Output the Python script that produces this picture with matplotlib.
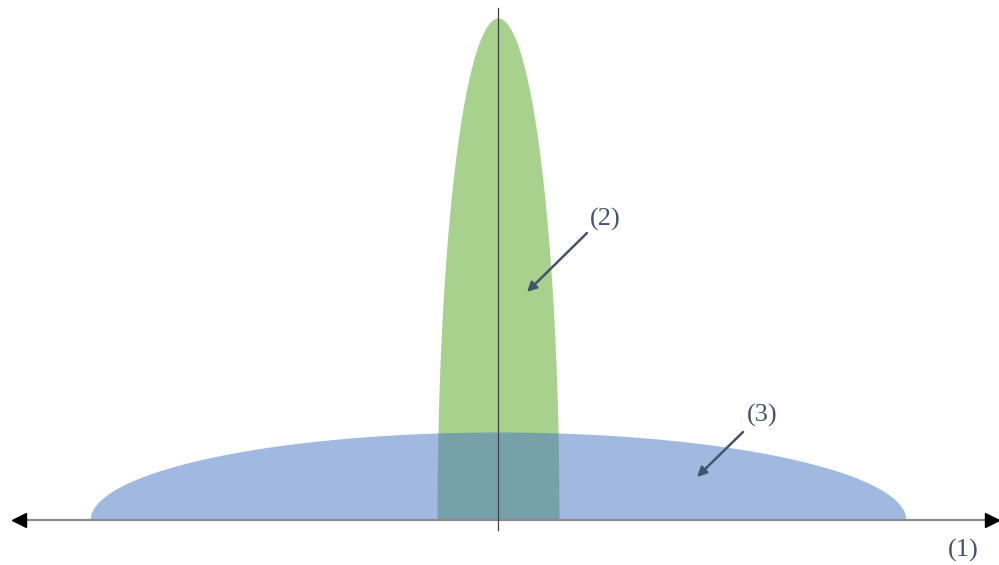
import numpy as np
import matplotlib.pyplot as plt

# shape sizes (half width, height) in axis units
green_half_width = 61
green_height = 502
blue_half_width = 408
blue_height = 88

labels = ["(1)", "(2)", "(3)"]
label_pos = [(465, -30), (107, 301), (264, 105)]
arrow_tails = [None, (89, 287), (245, 88)]
arrow_heads = [None, (29, 228), (199, 43)]

green = "#A9D18E"
blue = "#4472C4"
text_col = "#44546A"

fig = plt.figure(figsize=(9.99, 5.65), dpi=100)
ax = fig.add_axes([0, 0, 1, 1])
ax.set_xlim(-498, 501)
ax.set_ylim(-45, 520)
ax.axis("off")

# green tall half ellipse
xg = np.linspace(-green_half_width, green_half_width, 400)
yg = green_height * np.sqrt(np.clip(1 - (xg / green_half_width) ** 2, 0, None))
ax.fill_between(xg, 0, yg, color=green, lw=0, zorder=1)

# blue wide half ellipse, semi transparent
xb = np.linspace(-blue_half_width, blue_half_width, 800)
yb = blue_height * np.sqrt(np.clip(1 - (xb / blue_half_width) ** 2, 0, None))
ax.fill_between(xb, 0, yb, color=blue, alpha=0.5, lw=0, zorder=2)

# horizontal axis with arrow heads
ax.plot([-480, 494], [0, 0], color="#8C8C8C", lw=1.6, zorder=3)
ax.plot([-479.5], [0], marker="<", color="black", ms=9.5, zorder=4)
ax.plot([494], [0], marker=">", color="black", ms=9.5, zorder=4)

# vertical line
ax.plot([0, 0], [-10, 512], color="#404040", lw=0.9, zorder=3)

for i, lab in enumerate(labels):
    ax.text(label_pos[i][0], label_pos[i][1], lab, fontsize=19, family="Liberation Serif",
            color=text_col, ha="center", va="center", zorder=5)
    if arrow_tails[i] is not None:
        ax.annotate("", xy=arrow_heads[i], xytext=arrow_tails[i],
                    arrowprops=dict(arrowstyle="-|>", color=text_col, lw=1.8,
                                    mutation_scale=14, shrinkA=0, shrinkB=0), zorder=5)

fig.savefig("out.png", dpi=100)
